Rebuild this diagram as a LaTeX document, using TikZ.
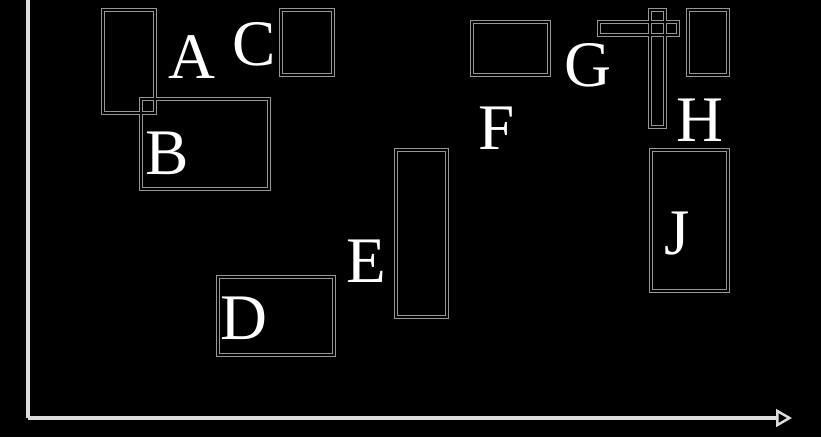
\documentclass[tikz,border=0pt]{standalone}
\usepackage{fontspec}
\setmainfont{Liberation Serif}
\usetikzlibrary{arrows.meta}
\definecolor{boxgray}{RGB}{150,150,150}
\definecolor{axisgray}{RGB}{220,220,220}
\begin{document}
\begin{tikzpicture}[x=0.02cm,y=-0.02cm,
box/.style = {draw=boxgray,line width=2.6pt},
boxin/.style = {draw=black,line width=0.9pt},
axis/.style = {draw=axisgray,line width=2.4pt,
        -{Triangle[open,length=9pt,width=10pt,fill=black,line width=1.4pt]}},
letter/.style = {text=white,font=\fontsize{37}{40}\selectfont,inner sep=0pt}]

        \fill[black] (0,0) rectangle (821,437);
        \useasboundingbox (0,0) rectangle (821,437);

        % axes
        \coordinate (O) at ( 28, 418 );
        \coordinate (Ytop) at ( 28, 0 );
        \coordinate (Xend) at ( 792, 418 );
        \draw[draw=axisgray,line width=2.4pt] (Ytop) -- (O);
        \draw[axis] (O) -- (Xend);

        % rectangles
        \foreach \pa/\pb in {{103,10}/{155,113}, {141,99}/{269,189},
                {281,10}/{333,75}, {218,277}/{334,355}, {396,150}/{447,317},
                {472,22}/{549,75}, {599,22}/{678,35}, {650,10}/{665,127},
                {688,10}/{728,75}, {651,150}/{728,291}}
            \draw[box] (\pa) rectangle (\pb);
        \foreach \pa/\pb in {{103,10}/{155,113}, {141,99}/{269,189},
                {281,10}/{333,75}, {218,277}/{334,355}, {396,150}/{447,317},
                {472,22}/{549,75}, {599,22}/{678,35}, {650,10}/{665,127},
                {688,10}/{728,75}, {651,150}/{728,291}}
            \draw[boxin] (\pa) rectangle (\pb);

        % labels
        \node[letter] (labA) at ( 192, 57 ) {A};
        \node[letter] (labB) at ( 167, 153 ) {B};
        \node[letter] (labC) at ( 254, 44 ) {C};
        \node[letter] (labD) at ( 244, 318 ) {D};
        \node[letter] (labE) at ( 366, 261 ) {E};
        \node[letter] (labF) at ( 497, 128 ) {F};
        \node[letter] (labG) at ( 588, 65 ) {G};
        \node[letter] (labH) at ( 700, 120 ) {H};
        \node[letter] (labJ) at ( 677, 234 ) {J};

    \end{tikzpicture}
\end{document}
